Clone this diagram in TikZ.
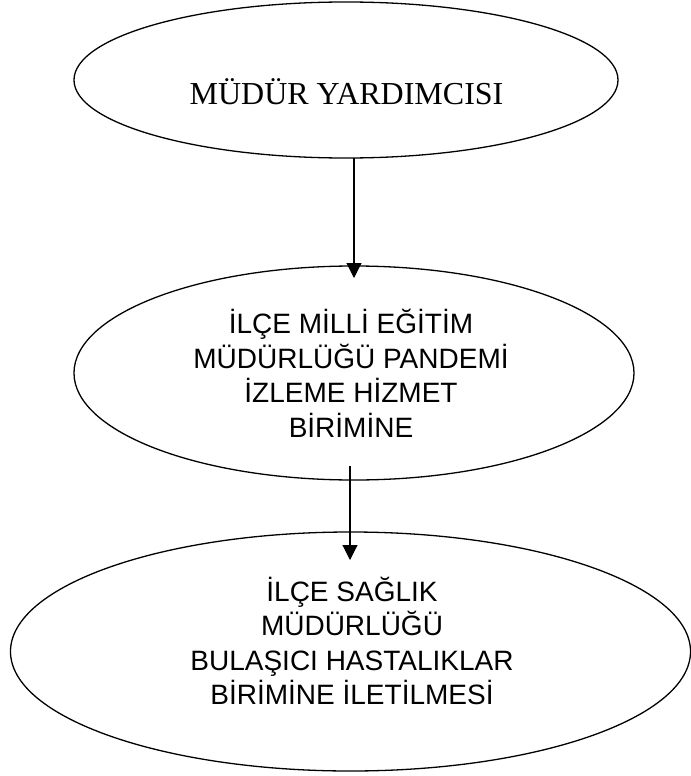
\documentclass[tikz,border=0pt]{standalone}
\usepackage{fontspec}
\setmainfont{Liberation Serif}
\newfontfamily\arialfont{Liberation Sans}
\usetikzlibrary{shapes.geometric,arrows.meta}
\tikzset{
  oval/.style={ellipse, draw=black, line width=1.3bp, inner sep=0pt},
  serifbox/.style={inner sep=0pt, font=\fontsize{32bp}{38bp}\selectfont},
  sansbox/.style={inner sep=0pt, align=center, font=\arialfont\fontsize{28bp}{34.5bp}\selectfont},
  flow/.style={line width=1.1bp, -{Triangle[length=15bp,width=15bp]}}
}
\begin{document}
\begin{tikzpicture}[x=1bp,y=-1bp]
\useasboundingbox (0,0) rectangle (691,776);
\node[oval, minimum width=544bp, minimum height=156bp] (e1) at (346,80) {};
\node[oval, minimum width=560bp, minimum height=214bp] (e2) at (354,373) {};
\node[oval, minimum width=680bp, minimum height=239bp] (e3) at (350.5,651.5) {};
\node[serifbox] (t1) at (346.5,91.5) {MÜDÜR YARDIMCISI};
\node[sansbox] (t2) at (351,373.5) {İLÇE MİLLİ EĞİTİM\\MÜDÜRLÜĞÜ PANDEMİ\\İZLEME HİZMET\\BİRİMİNE};
\node[sansbox] (t3) at (352,641) {İLÇE SAĞLIK\\MÜDÜRLÜĞÜ\\BULAŞICI HASTALIKLAR\\BİRİMİNE İLETİLMESİ};
\coordinate (a1s) at (354,158);
\coordinate (a1e) at (354,278);
\coordinate (a2s) at (350,466);
\coordinate (a2e) at (350,560);
\draw[flow] (a1s) -- (a1e);
\draw[flow] (a2s) -- (a2e);
\end{tikzpicture}
\end{document}
